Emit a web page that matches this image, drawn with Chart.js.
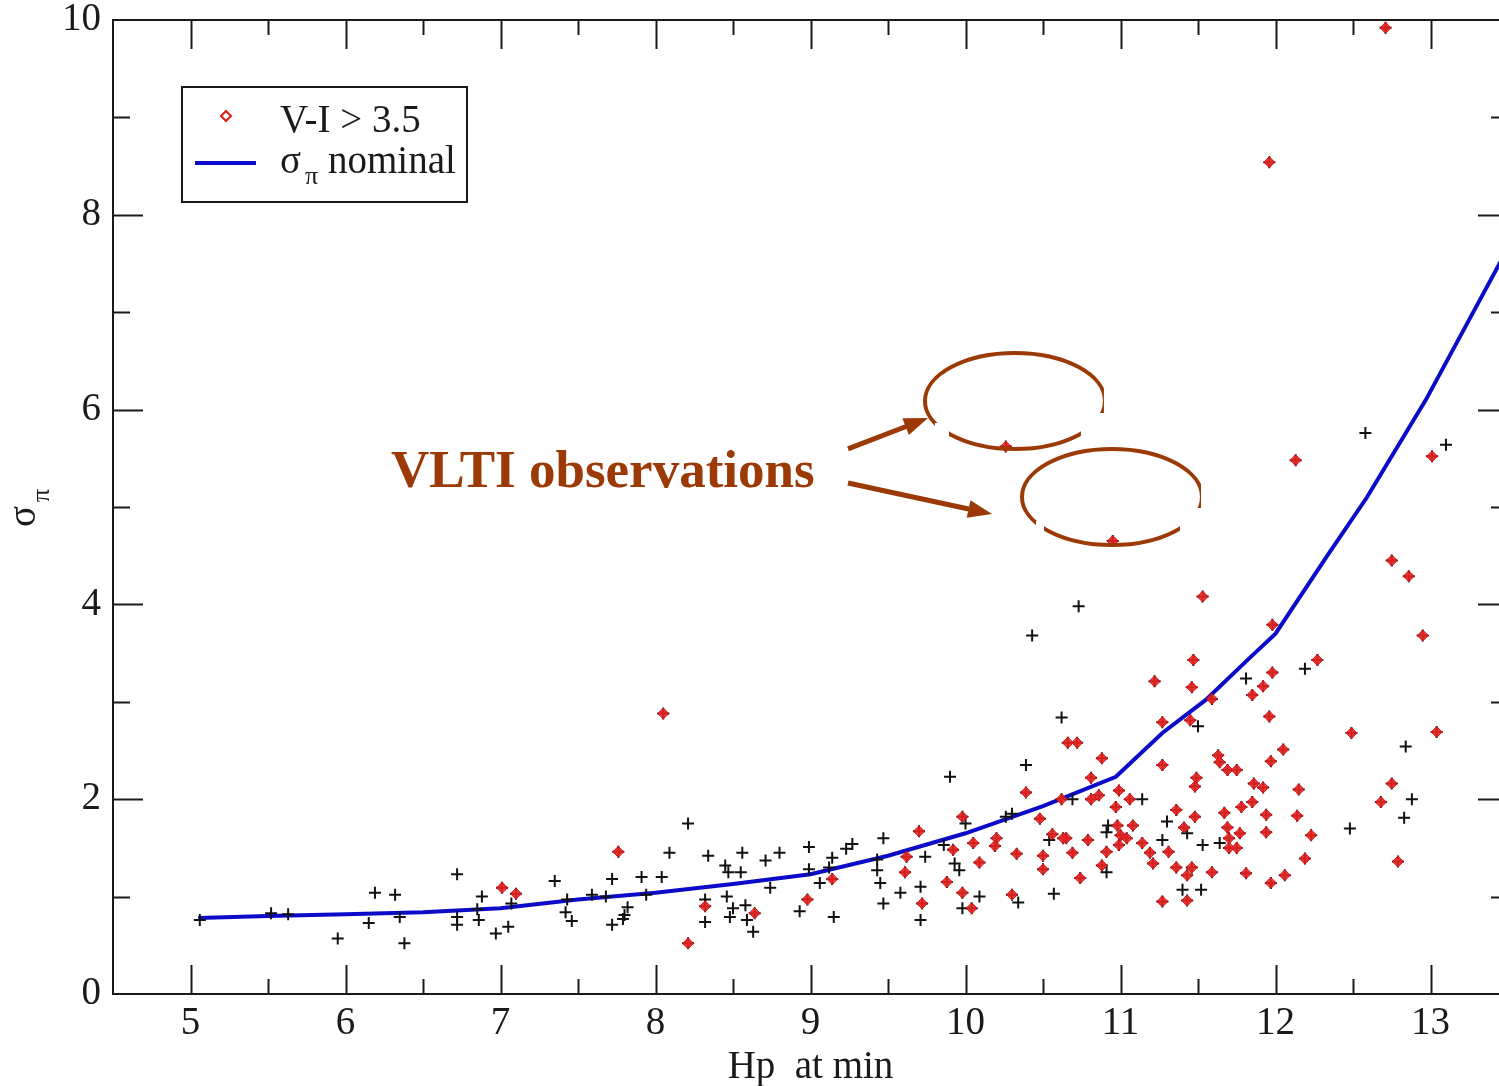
<!DOCTYPE html>
<html>
<head>
<meta charset="utf-8">
<script src="https://cdn.jsdelivr.net/npm/chart.js@4.4.1/dist/chart.umd.min.js"></script>
<style>
html, body { margin: 0; padding: 0; background: #fff; overflow: hidden; }
#marcoGrafica { width: 1508px; height: 1086px; }
</style>
</head>
<body>
<div id="marcoGrafica"><canvas id="grafica" width="1508" height="1086"></canvas></div>
<script>
// Estrellas con V-I <= 3.5 (solo cruz negra)
const otrosHp = [5.06, 5.52, 5.63, 5.95, 6.15, 6.19, 6.32, 6.35, 6.38, 6.72, 6.72, 6.72, 6.85, 6.86, 6.88,
    6.97, 7.05, 7.07, 7.35, 7.42, 7.46, 7.43, 7.59, 7.68, 7.72, 7.72, 7.79, 7.80, 7.82, 7.91, 7.94, 8.04,
    8.09, 8.21, 8.32, 8.32, 8.34, 8.45, 8.47, 8.46, 8.48, 8.50, 8.55, 8.56, 8.58, 8.59, 8.63, 8.71, 8.74,
    8.80, 8.99, 8.99, 8.93, 9.06, 9.14, 9.12, 9.15, 9.23, 9.27, 9.43, 9.43, 9.45, 9.47, 9.47, 9.58, 9.71,
    9.71, 9.74, 9.90, 9.86, 9.93, 9.96, 10.00, 9.98, 10.09, 10.34, 10.26, 10.30, 10.39, 10.54, 10.57,
    10.73, 10.43, 11.81, 10.62, 11.50, 10.69, 11.14, 10.92, 10.91, 11.27, 11.30, 11.43, 11.53, 11.64,
    10.91, 11.40, 11.52, 12.58, 13.10, 12.19, 12.84, 12.88, 12.83, 12.48];
const otrosSig = [0.76, 0.83, 0.82, 0.57, 0.73, 1.04, 1.02, 0.79, 0.52, 1.23, 0.79, 0.71, 0.87, 0.76, 1.00,
    0.62, 0.69, 0.93, 1.16, 0.84, 0.75, 0.97, 1.02, 1.00, 1.18, 0.71, 0.77, 0.81, 0.89, 1.20, 1.02, 1.20,
    1.45, 1.75, 0.97, 0.74, 1.42, 1.32, 1.25, 1.00, 0.79, 0.88, 1.25, 1.45, 0.91, 0.76, 0.64, 1.37, 1.09,
    1.45, 1.51, 1.28, 0.85, 1.14, 1.40, 1.30, 0.79, 1.49, 1.54, 1.38, 1.27, 1.14, 1.60, 0.93, 1.04, 1.10,
    0.76, 1.41, 2.23, 1.53, 1.34, 1.27, 1.75, 0.88, 1.00, 0.94, 1.82, 1.85, 2.35, 1.58, 1.03,
    3.98, 3.68, 3.24, 2.84, 2.75, 2.00, 2.00, 1.73, 1.66, 1.58, 1.77, 1.65, 1.53, 1.55,
    1.25, 1.07, 1.07, 5.76, 5.64, 3.34, 2.54, 2.00, 1.81, 1.70];

// Estrellas con V-I > 3.5 (rombo rojo sobre cruz negra)
const rojoHp = [7.01, 7.10, 7.76, 8.21, 8.32, 8.64, 8.05, 8.98, 9.14, 9.61, 9.62, 9.70, 9.72, 9.92, 9.88,
    9.98, 9.98, 10.04, 10.05, 10.09, 10.20, 10.19, 10.33, 10.30, 10.39, 10.48, 10.50, 10.50, 10.56, 10.26,
    10.95, 11.53, 11.47, 11.22, 11.46, 10.66, 10.72, 10.88, 11.27, 11.45, 11.59, 11.27, 11.63, 11.64, 11.69,
    11.75, 11.49, 11.48, 10.81, 10.86, 10.81, 10.62, 10.99, 10.97, 11.06, 10.98, 11.08, 10.65, 10.63, 10.79,
    11.00, 11.04, 10.99, 11.14, 11.36, 11.41, 11.48, 11.67, 11.69, 11.78, 11.77, 11.70, 11.70, 11.75, 11.81,
    10.69, 10.91, 10.88, 10.74, 11.19, 11.21, 11.31, 11.36, 11.46, 11.43, 11.59, 11.27, 11.43, 12.71, 11.96,
    12.13, 13.01, 12.75, 12.86, 12.95, 11.98, 12.27, 11.98, 11.92, 11.85, 11.96, 12.49, 13.04, 12.05, 11.97,
    11.86, 11.92, 12.15, 12.75, 12.68, 11.85, 11.94, 12.14, 11.94, 12.23, 12.19, 12.79, 12.06, 11.97];
const rojoSig = [1.09, 1.03, 1.46, 0.52, 0.90, 0.83, 2.88, 0.97, 1.18, 1.25, 1.41, 1.67, 0.93, 1.48, 1.15,
    1.82, 1.04, 0.88, 1.55, 1.35, 1.60, 1.52, 1.44, 1.02, 2.07, 1.80, 1.42, 1.28, 1.64, 5.62,
    4.65, 4.08, 3.43, 3.21, 3.15, 2.58, 2.58, 2.42, 2.79, 2.81, 3.03, 2.35, 2.45, 2.38, 2.30,
    2.30, 2.22, 2.13, 2.22, 2.04, 2.00, 2.00, 2.09, 1.92, 2.00, 1.73, 1.73, 1.60, 1.60, 1.58,
    1.63, 1.60, 1.53, 1.55, 1.89, 1.71, 1.82, 1.86, 1.71, 1.92, 1.65, 1.60, 1.50, 1.50, 1.24,
    1.45, 1.46, 1.32, 1.19, 1.45, 1.34, 1.46, 1.30, 1.30, 1.22, 1.25, 0.95, 0.96, 9.92, 8.54,
    5.48, 5.52, 4.45, 4.29, 3.68, 3.79, 3.43, 3.30, 3.16, 3.07, 2.85, 2.68, 2.69, 2.51, 2.39,
    2.16, 2.12, 2.10, 2.16, 1.97, 1.97, 1.84, 1.83, 1.66, 1.63, 1.39, 1.36, 1.22, 1.14];

// Curva sigma_pi nominal
const nominalHp = [5.05, 5.5, 6.0, 6.5, 7.0, 7.5, 8.0, 8.5, 9.0, 9.5, 10.0, 10.5, 10.97, 11.27, 11.55,
    11.82, 12.0, 12.33, 12.59, 12.97, 13.5];
const nominalSig = [0.78, 0.80, 0.82, 0.84, 0.88, 0.97, 1.04, 1.13, 1.23, 1.42, 1.65, 1.93, 2.23, 2.68, 3.02,
    3.43, 3.70, 4.49, 5.10, 6.10, 7.66];

const SERIF = "'Liberation Serif', 'Times New Roman', serif";
const CAFE = '#9b3a06';
const puntos = (xs, ys) => xs.map((h, i) => ({ x: h, y: ys[i] }));

// Marco, marcas hacia dentro, leyenda, título del eje Y y anotaciones
const decorado = {
    id: 'decorado',
    afterDraw(chart) {
        const { ctx, chartArea: a, scales: { x, y } } = chart;
        ctx.save();
        ctx.strokeStyle = '#1a1a1a';
        ctx.lineWidth = 2;
        ctx.beginPath();
        ctx.moveTo(a.right, a.top); ctx.lineTo(a.left, a.top);
        ctx.lineTo(a.left, a.bottom); ctx.lineTo(a.right, a.bottom);
        ctx.stroke();

        ctx.beginPath();
        x.ticks.forEach(t => {
            const v = t.value;
            if (v <= x.min || v >= x.max) return;
            const len = Number.isInteger(v) ? 29 : (Number.isInteger(v * 2) ? 15 : 0);
            if (!len) return;
            const px = Math.round(x.getPixelForValue(v)) + 0.5;
            ctx.moveTo(px, a.bottom); ctx.lineTo(px, a.bottom - len);
            ctx.moveTo(px, a.top); ctx.lineTo(px, a.top + len);
        });
        y.ticks.forEach(t => {
            const v = t.value;
            if (v <= y.min || v >= y.max) return;
            const len = v % 2 === 0 ? 30 : 17;
            const py = Math.round(y.getPixelForValue(v)) + 0.5;
            ctx.moveTo(a.left, py); ctx.lineTo(a.left + len, py);
            ctx.moveTo(a.right, py); ctx.lineTo(a.right - len, py);
        });
        ctx.stroke();

        // Título del eje Y: sigma con subíndice pi
        ctx.fillStyle = '#1a1a1a';
        ctx.save();
        ctx.translate(35, 527);
        ctx.rotate(-Math.PI / 2);
        ctx.font = '39px ' + SERIF;
        ctx.fillText('σ', 0, 0);
        ctx.font = '26px ' + SERIF;
        ctx.fillText('π', 25, 14);
        ctx.restore();

        // Leyenda
        const lx = a.left + 69, ly = a.top + 67;
        ctx.fillStyle = '#fff';
        ctx.fillRect(lx, ly, 285, 115);
        ctx.strokeStyle = '#1a1a1a';
        ctx.lineWidth = 2;
        ctx.strokeRect(lx, ly, 285, 115);
        ctx.beginPath();
        ctx.moveTo(lx + 44, ly + 24); ctx.lineTo(lx + 49, ly + 29);
        ctx.lineTo(lx + 44, ly + 34); ctx.lineTo(lx + 39, ly + 29); ctx.closePath();
        ctx.strokeStyle = '#e01818';
        ctx.stroke();
        ctx.strokeStyle = '#0b0bc8';
        ctx.lineWidth = 4;
        ctx.beginPath();
        ctx.moveTo(lx + 13, ly + 76); ctx.lineTo(lx + 74, ly + 76);
        ctx.stroke();
        ctx.fillStyle = '#1a1a1a';
        ctx.font = '39px ' + SERIF;
        ctx.fillText('V-I > 3.5', lx + 98, ly + 45);
        ctx.fillText('σ', lx + 98, ly + 86);
        ctx.fillText('nominal', lx + 146, ly + 86);
        ctx.font = '26px ' + SERIF;
        ctx.fillText('π', lx + 123, ly + 97);

        // Anotación "VLTI observations"
        const X = v => x.getPixelForValue(v), Y = v => y.getPixelForValue(v);
        ctx.fillStyle = CAFE;
        ctx.strokeStyle = CAFE;
        ctx.font = 'bold 53px ' + SERIF;
        ctx.textAlign = 'center';
        ctx.fillText('VLTI observations', X(7.66), Y(5.21));

        const flecha = (x0, y0, x1, y1) => {
            const ang = Math.atan2(y1 - y0, x1 - x0);
            ctx.lineWidth = 5;
            ctx.beginPath();
            ctx.moveTo(x0, y0);
            ctx.lineTo(x1 - 18 * Math.cos(ang), y1 - 18 * Math.sin(ang));
            ctx.stroke();
            ctx.beginPath();
            ctx.moveTo(x1, y1);
            ctx.lineTo(x1 - 24 * Math.cos(ang) + 9 * Math.sin(ang), y1 - 24 * Math.sin(ang) - 9 * Math.cos(ang));
            ctx.lineTo(x1 - 24 * Math.cos(ang) - 9 * Math.sin(ang), y1 - 24 * Math.sin(ang) + 9 * Math.cos(ang));
            ctx.closePath();
            ctx.fill();
        };
        flecha(X(9.242), Y(5.596), X(9.758), Y(5.914));
        flecha(X(9.242), Y(5.246), X(10.171), Y(4.928));

        // Elipses con huecos (recortes), como en el original
        const elipse = (cx, cy, huecos) => {
            ctx.save();
            ctx.beginPath();
            ctx.rect(0, 0, chart.width, chart.height);
            huecos.forEach(h => ctx.rect(cx + h[0], cy + h[1], h[2], h[3]));
            ctx.clip('evenodd');
            ctx.lineWidth = 4;
            ctx.beginPath();
            ctx.ellipse(cx, cy, 90, 48, 0, 0, Math.PI * 2);
            ctx.stroke();
            ctx.restore();
        };
        elipse(X(10.319), Y(6.088), [[89, -60, 30, 120], [66, 12, 23, 50], [-80, 22, 14, 40]]);
        elipse(X(10.945), Y(5.103), [[89, -60, 30, 120], [68, 11, 21, 50], [-76, 24, 8, 30]]);
        ctx.restore();
    }
};

const ctx = document.getElementById('grafica').getContext('2d');
new Chart(ctx, {
    type: 'scatter',
    data: {
        datasets: [{
            label: 'V-I > 3.5',
            data: puntos(rojoHp, rojoSig),
            pointStyle: 'rectRot',
            pointRadius: 5.5,
            backgroundColor: 'rgba(232, 36, 36, 0.9)',
            borderColor: '#d41414',
            borderWidth: 1,
            order: 1
        }, {
            label: 'todas',
            data: puntos(otrosHp.concat(rojoHp), otrosSig.concat(rojoSig)),
            pointStyle: 'cross',
            pointRadius: 6,
            borderColor: '#111',
            borderWidth: 2,
            order: 2
        }, {
            type: 'line',
            label: 'σπ nominal',
            data: puntos(nominalHp, nominalSig),
            borderColor: '#0b0bc8',
            borderWidth: 4,
            pointRadius: 0,
            tension: 0,
            fill: false,
            order: 3
        }]
    },
    options: {
        responsive: false,
        animation: false,
        devicePixelRatio: 1,
        layout: { autoPadding: false, padding: { top: 20, left: 0, right: 0, bottom: 0 } },
        plugins: { legend: { display: false }, tooltip: { enabled: false } },
        scales: {
            x: {
                type: 'linear',
                min: 4.5,
                max: 13.5,
                afterFit: s => { s.height = 92; s.paddingLeft = 0; s.paddingRight = 0; },
                grid: { display: false, drawTicks: false },
                border: { display: false },
                ticks: {
                    stepSize: 0.5,
                    autoSkip: false,
                    maxRotation: 0,
                    padding: 6,
                    color: '#1a1a1a',
                    font: { family: SERIF, size: 39 },
                    callback: v => Number.isInteger(v) ? v : ''
                },
                title: {
                    display: true,
                    text: 'Hp  at min',
                    color: '#1a1a1a',
                    font: { family: SERIF, size: 39 },
                    padding: { top: 0, bottom: -5 }
                }
            },
            y: {
                min: 0,
                max: 10,
                afterFit: s => { s.width = 113; s.paddingTop = 0; s.paddingBottom = 0; },
                grid: { display: false, drawTicks: false },
                border: { display: false },
                ticks: {
                    stepSize: 1,
                    padding: 12,
                    color: '#1a1a1a',
                    font: { family: SERIF, size: 39 },
                    callback: v => v % 2 === 0 ? v : ''
                }
            }
        }
    },
    plugins: [decorado]
});
</script>
</body>
</html>
